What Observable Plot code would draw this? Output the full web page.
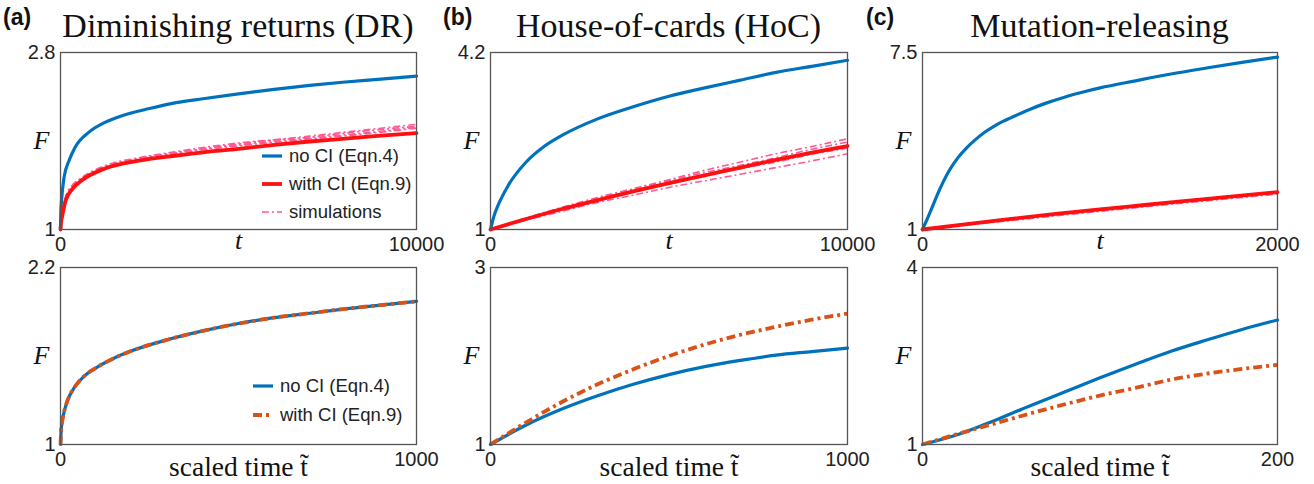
<!DOCTYPE html>
<html>
<head>
<meta charset="utf-8">
<script src="https://cdn.jsdelivr.net/npm/d3@7"></script>
<script src="https://cdn.jsdelivr.net/npm/@observablehq/plot@0.6"></script>
<style>
  html, body { margin: 0; padding: 0; background: #fff; }
  #root { position: relative; width: 1314px; height: 484px; overflow: hidden; background: #fff; }
  .title { position: absolute; font-family: "Liberation Serif", "Times New Roman", serif; font-size: 34px; color: #111; white-space: nowrap; transform: translateX(-50%); line-height: 1; }
  .plabel { position: absolute; font-family: "Liberation Sans", Arial, sans-serif; font-weight: bold; font-size: 23px; color: #111; line-height: 1; }
  .legend { position: absolute; font-family: "Liberation Sans", Arial, sans-serif; font-size: 18.5px; color: #222; }
  .legend .row { position: absolute; left: 0; white-space: nowrap; line-height: 1; }
</style>
</head>
<body>
<div id="root"></div>
<script>
// ---------------- DATA ----------------
const panelLabels = ["(a)", "(b)", "(c)"];
const panelTitles = ["Diminishing returns (DR)", "House-of-cards (HoC)", "Mutation-releasing"];
const seriesNames = ["no CI (Eqn.4)", "with CI (Eqn.9)", "simulations"];

// (a) top: time t, fitness F
const aTopT      = [0, 10, 30, 100, 250, 400, 800, 1250, 1750, 2500, 3250, 4000, 5000, 6000, 7000, 8000, 9000, 10000];
const aTopNoCI   = [1, 1.18, 1.30, 1.53, 1.71, 1.83, 1.99, 2.09, 2.16, 2.23, 2.29, 2.33, 2.38, 2.425, 2.465, 2.50, 2.53, 2.56];
const aTopRedT   = [0, 15, 50, 140, 330, 600, 1250, 2200, 3200, 4000, 5000, 6000, 7000, 8000, 9000, 10000];
const aTopWithCI = [1, 1.07, 1.14, 1.29, 1.41, 1.50, 1.62, 1.70, 1.75, 1.785, 1.82, 1.86, 1.895, 1.925, 1.955, 1.98];
const aSimT  = [0, 50, 140, 330, 600, 1250, 2200, 3200, 5000, 7000, 8500, 10000];
const aSim1  = [1, 1.17, 1.32, 1.44, 1.52, 1.64, 1.72, 1.78, 1.86, 1.93, 1.98, 2.04];
const aSim2  = [1, 1.16, 1.31, 1.43, 1.52, 1.63, 1.72, 1.78, 1.87, 1.95, 2.01, 2.07];
const aSim3  = [1, 1.18, 1.33, 1.45, 1.53, 1.65, 1.73, 1.79, 1.88, 1.94, 2.00, 2.05];
const aSim4  = [1, 1.15, 1.30, 1.43, 1.51, 1.62, 1.71, 1.77, 1.85, 1.92, 1.97, 2.03];

// (b) top
const bTopT      = [0, 100, 200, 500, 1000, 1500, 2000, 3000, 4000, 5000, 6000, 7000, 8000, 9000, 10000];
const bTopNoCI   = [1, 1.25, 1.42, 1.80, 2.22, 2.50, 2.70, 3.00, 3.22, 3.41, 3.56, 3.70, 3.84, 3.95, 4.06];
const bTopRedT   = [0, 1000, 2000, 3000, 4000, 5000, 6000, 7000, 8000, 9000, 10000];
const bTopWithCI = [1, 1.19, 1.37, 1.53, 1.69, 1.84, 1.98, 2.12, 2.26, 2.39, 2.51];
const bSimT  = [0, 1000, 2000, 3000, 4000, 5000, 6000, 7000, 8000, 9000, 10000];
const bSim1  = [1, 1.21, 1.40, 1.58, 1.74, 1.90, 2.07, 2.22, 2.37, 2.50, 2.64];
const bSim2  = [1, 1.20, 1.39, 1.55, 1.72, 1.88, 2.03, 2.16, 2.30, 2.45, 2.58];
const bSim3  = [1, 1.17, 1.33, 1.49, 1.62, 1.76, 1.88, 2.00, 2.12, 2.24, 2.37];
const bSim4  = [1, 1.18, 1.36, 1.52, 1.68, 1.82, 1.97, 2.10, 2.22, 2.36, 2.47];

// (c) top
const cTopT      = [0, 25, 50, 100, 150, 200, 250, 300, 350, 400, 450, 500, 600, 700, 800, 900, 1000, 1200, 1400, 1600, 1800, 2000];
const cTopNoCI   = [1, 1.36, 1.75, 2.52, 3.16, 3.64, 4.01, 4.31, 4.57, 4.78, 4.96, 5.11, 5.40, 5.65, 5.86, 6.04, 6.20, 6.46, 6.71, 6.93, 7.14, 7.33];
const cTopRedT   = [0, 250, 500, 750, 1000, 1250, 1500, 1750, 2000];
const cTopWithCI = [1, 1.2, 1.39, 1.57, 1.74, 1.90, 2.06, 2.22, 2.37];
const cSimT  = [0, 500, 1000, 1500, 2000];
const cSim1  = [1, 1.35, 1.69, 2.02, 2.33];
const cSim2  = [1, 1.37, 1.71, 2.03, 2.35];
const cSim3  = [1, 1.33, 1.67, 1.99, 2.30];

// (a) bottom: scaled time
const aBotT      = [0, 2, 5, 10, 20, 40, 65, 100, 150, 200, 300, 400, 500, 600, 700, 800, 900, 1000];
const aBotNoCI   = [1, 1.1, 1.16, 1.22, 1.30, 1.39, 1.46, 1.52, 1.585, 1.635, 1.71, 1.77, 1.82, 1.86, 1.89, 1.92, 1.945, 1.97];
const aBotWithCI = [1, 1.1, 1.16, 1.22, 1.30, 1.39, 1.46, 1.52, 1.585, 1.635, 1.71, 1.77, 1.82, 1.86, 1.89, 1.92, 1.945, 1.97];

// (b) bottom
const bBotT      = [0, 100, 200, 300, 400, 500, 600, 700, 800, 900, 1000];
const bBotNoCI   = [1, 1.22, 1.40, 1.55, 1.68, 1.79, 1.88, 1.95, 2.01, 2.05, 2.09];
const bBotWithCI = [1, 1.25, 1.48, 1.68, 1.85, 2.00, 2.13, 2.24, 2.33, 2.41, 2.48];

// (c) bottom
const cBotT      = [0, 20, 40, 60, 80, 100, 120, 140, 160, 180, 200];
const cBotNoCI   = [1, 1.17, 1.40, 1.65, 1.89, 2.13, 2.36, 2.58, 2.77, 2.95, 3.11];
const cBotWithCI = [1, 1.18, 1.35, 1.52, 1.68, 1.83, 1.96, 2.10, 2.20, 2.28, 2.35];

// axis ranges and labels
const topXMax = [10000, 10000, 2000];
const botXMax = [1000, 1000, 200];
const topYMax = [2.8, 4.2, 7.5];
const botYMax = [2.2, 3, 4];
const yMin = 1;
const topXLabel = "t";
const botXLabel = "scaled time t\u0303";
const yLabel = "F";

// ---------------- STYLE ----------------
const BLUE = "#0072BD", RED = "#ff1010", PINK = "#ff5a96", ORANGE = "#D95319";
const SANS = "'Liberation Sans', Arial, Helvetica, sans-serif";
const SERIF = "'Liberation Serif', 'Times New Roman', serif";
const ORANGE_DASH = "9,4,3,4";
const SIM_DASH = "7,3,2,3";

const rows = (ts, fs) => ts.map((t, i) => ({t, F: fs[i]}));

const root = document.getElementById("root");

// frame boxes (layout) in page pixels
const colX = [[60, 416], [490, 847], [922, 1277]];
const rowY = [[52, 229], [267, 444]];

function panel(col, row, xMax, yMax, marks, xLabel) {
  const [x0, x1] = colX[col];
  const [y0, y1] = rowY[row];
  const mL = 62, mR = 45, mT = 14, mB = 42;
  const svg = Plot.plot({
    width: (x1 - x0) + mL + mR,
    height: (y1 - y0) + mT + mB,
    marginLeft: mL, marginRight: mR, marginTop: mT, marginBottom: mB,
    style: {background: "transparent", overflow: "visible", fontFamily: SANS, color: "#222"},
    x: {domain: [0, xMax]},
    y: {domain: [yMin, yMax]},
    marks: [
      ...marks,
      Plot.frame({stroke: "#555", strokeWidth: 1.3}),
      Plot.axisX({ticks: [0, xMax], tickSize: 0, tickPadding: 7, fontSize: 20, tickFormat: d => String(d), label: null}),
      Plot.axisY({ticks: [yMin, yMax], tickSize: 0, tickPadding: 5, fontSize: 20, tickFormat: d => String(d), label: null}),
      Plot.text([xLabel], {text: d => d, frameAnchor: "bottom", dy: row === 0 ? 19 : 31, fontFamily: SERIF, fontStyle: row === 0 ? "italic" : "normal", fontSize: row === 0 ? 26 : 27.5, fill: "#111"}),
      Plot.text([yLabel], {text: d => d, frameAnchor: "left", dx: -27, fontFamily: SERIF, fontStyle: "italic", fontSize: 26, fill: "#111"})
    ]
  });
  svg.style.position = "absolute";
  svg.style.left = (x0 - mL) + "px";
  svg.style.top = (y0 - mT) + "px";
  root.appendChild(svg);
  return svg;
}

const blueLine = (d) => Plot.line(d, {x: "t", y: "F", stroke: BLUE, strokeWidth: 3.2, curve: "monotone-x"});
const redLine = (d) => Plot.line(d, {x: "t", y: "F", stroke: RED, strokeWidth: 3.8, curve: "monotone-x"});
const simLine = (d) => Plot.line(d, {x: "t", y: "F", stroke: PINK, strokeWidth: 1.6, strokeDasharray: SIM_DASH, strokeLinecap: "butt", curve: "monotone-x"});
const orangeLine = (d) => Plot.line(d, {x: "t", y: "F", stroke: ORANGE, strokeWidth: 3.8, strokeDasharray: ORANGE_DASH, strokeLinecap: "butt", curve: "monotone-x"});

// top row
panel(0, 0, topXMax[0], topYMax[0], [
  blueLine(rows(aTopT, aTopNoCI)),
  simLine(rows(aSimT, aSim1)), simLine(rows(aSimT, aSim2)), simLine(rows(aSimT, aSim3)), simLine(rows(aSimT, aSim4)),
  redLine(rows(aTopRedT, aTopWithCI))
], topXLabel);
panel(1, 0, topXMax[1], topYMax[1], [
  blueLine(rows(bTopT, bTopNoCI)),
  simLine(rows(bSimT, bSim1)), simLine(rows(bSimT, bSim2)), simLine(rows(bSimT, bSim3)), simLine(rows(bSimT, bSim4)),
  redLine(rows(bTopRedT, bTopWithCI))
], topXLabel);
panel(2, 0, topXMax[2], topYMax[2], [
  blueLine(rows(cTopT, cTopNoCI)),
  simLine(rows(cSimT, cSim1)), simLine(rows(cSimT, cSim2)), simLine(rows(cSimT, cSim3)),
  redLine(rows(cTopRedT, cTopWithCI))
], topXLabel);

// bottom row
panel(0, 1, botXMax[0], botYMax[0], [
  blueLine(rows(aBotT, aBotNoCI)),
  orangeLine(rows(aBotT, aBotWithCI))
], botXLabel);
panel(1, 1, botXMax[1], botYMax[1], [
  blueLine(rows(bBotT, bBotNoCI)),
  orangeLine(rows(bBotT, bBotWithCI))
], botXLabel);
panel(2, 1, botXMax[2], botYMax[2], [
  blueLine(rows(cBotT, cBotNoCI)),
  orangeLine(rows(cBotT, cBotWithCI))
], botXLabel);

// titles and panel labels
const labelX = [3, 443, 866];
panelTitles.forEach((t, i) => {
  const d = document.createElement("div");
  d.className = "title";
  d.textContent = t;
  d.style.left = ((colX[i][0] + colX[i][1]) / 2) + "px";
  d.style.top = "9px";
  root.appendChild(d);
  const p = document.createElement("div");
  p.className = "plabel";
  p.textContent = panelLabels[i];
  p.style.left = labelX[i] + "px";
  p.style.top = "6px";
  root.appendChild(p);
});

// legends
function legend(left, top, items, gap) {
  const box = document.createElement("div");
  box.className = "legend";
  box.style.left = left + "px";
  box.style.top = top + "px";
  items.forEach((it, i) => {
    const r = document.createElement("div");
    r.className = "row";
    r.style.top = (i * gap) + "px";
    r.innerHTML = `<svg width="22" height="12" style="vertical-align:middle;margin-right:6px"><line x1="1" y1="6" x2="21" y2="6" stroke="${it.color}" stroke-width="${it.w}" stroke-linecap="butt" ${it.dash ? `stroke-dasharray="${it.dash}"` : ""}/></svg><span style="vertical-align:middle">${it.label}</span>`;
    box.appendChild(r);
  });
  root.appendChild(box);
}
legend(261, 146, [
  {label: seriesNames[0], color: BLUE, w: 3.2},
  {label: seriesNames[1], color: RED, w: 3.8},
  {label: seriesNames[2], color: PINK, w: 1.6, dash: SIM_DASH}
], 28);
legend(252, 376, [
  {label: seriesNames[0], color: BLUE, w: 3.2},
  {label: seriesNames[1], color: ORANGE, w: 3.8, dash: ORANGE_DASH}
], 29);
</script>
</body>
</html>
